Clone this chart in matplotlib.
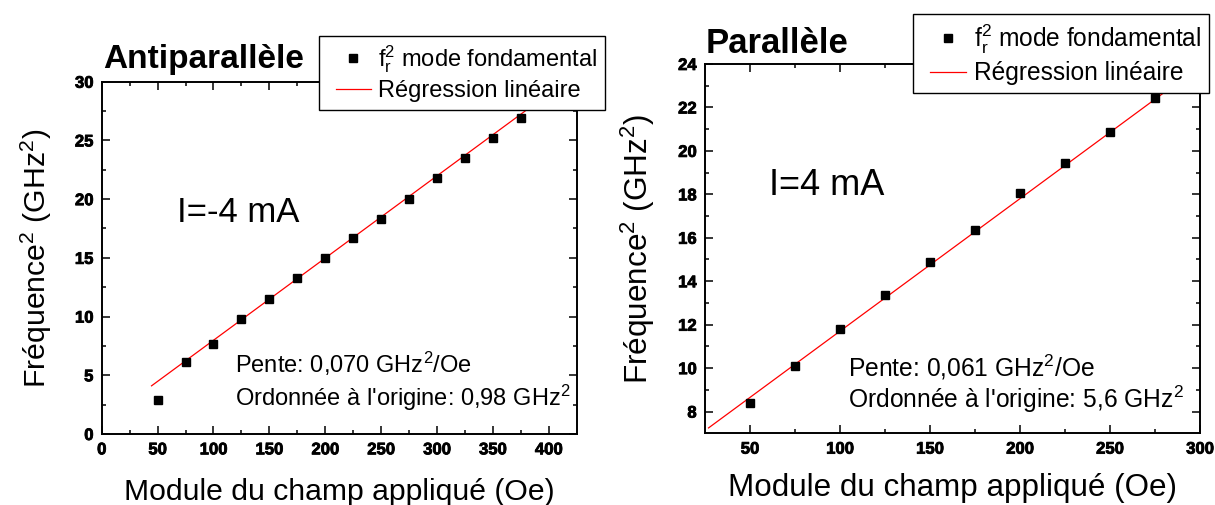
import numpy as np
import matplotlib
matplotlib.use('Agg')
from matplotlib import pyplot as plt
from matplotlib import patheffects
from matplotlib.lines import Line2D
from matplotlib.legend_handler import HandlerLine2D

plt.rcParams['font.family'] = ['Liberation Sans', 'DejaVu Sans']
plt.rcParams['mathtext.default'] = 'regular'

# Antiparallele, I = -4 mA
champ_ap = [50, 75, 100, 125, 150, 175, 200, 225, 250, 275, 300, 325, 350, 375]
freq2_ap = [2.89, 6.11, 7.64, 9.76, 11.52, 13.30, 15.03, 16.72, 18.34, 20.03,
            21.79, 23.49, 25.20, 26.90]
pente_ap = 0.070
origine_ap = 0.98
fit_x_ap = [44.6, 430]
xticks_ap = [0, 50, 100, 150, 200, 250, 300, 350, 400]
yticks_ap = [0, 5, 10, 15, 20, 25, 30]

# Parallele, I = 4 mA
champ_p = [50, 75, 100, 125, 150, 175, 200, 225, 250, 275]
freq2_p = [8.40, 10.08, 11.81, 13.38, 14.88, 16.38, 18.06, 19.43, 20.87, 22.44]
pente_p = 0.061
origine_p = 5.6
fit_x_p = [27, 305]
xticks_p = [50, 100, 150, 200, 250, 300]
yticks_p = [8, 10, 12, 14, 16, 18, 20, 22, 24]

fig = plt.figure(figsize=(12.15, 5.05), dpi=100)
ax1 = fig.add_axes([0.0837, 0.1406, 0.3909, 0.6976])
ax2 = fig.add_axes([0.5802, 0.1420, 0.4074, 0.7313])

epais = [patheffects.withStroke(linewidth=0.6, foreground='black')]


def draw(ax, x, y, pente, origine, fit_x, xlim, ylim, xt, yt, s, xpad):
    fx = np.array(fit_x)
    ax.plot(fx, origine + pente * fx, color='red', linewidth=0.9,
            label='Régression linéaire', zorder=2)
    ax.plot(x, y, linestyle='none', marker='s', markersize=5.5, color='black',
            label=r'f$_r^2$ mode fondamental', zorder=3)
    ax.set_xlim(xlim)
    ax.set_ylim(ylim)
    ax.set_xticks(xt, [str(v) for v in xt], fontweight='bold')
    ax.set_yticks(yt, [str(v) for v in yt], fontweight='bold')
    ax.set_xticks(np.array(xt[:-1]) + (xt[1] - xt[0]) / 2, minor=True)
    ax.set_yticks(np.array(yt[:-1]) + (yt[1] - yt[0]) / 2, minor=True)
    ax.tick_params(which='both', direction='in', top=True, right=True, width=1.1)
    ax.tick_params(which='major', length=5.5, pad=6, labelsize=12)
    ax.tick_params(which='minor', length=3)
    for sp in ax.spines.values():
        sp.set_linewidth(1.4)
    ax.set_xlabel('Module du champ appliqué (Oe)', fontsize=21.7 * s, labelpad=xpad)
    ax.set_ylabel('Fréquence$^2$ (GHz$^2$)', fontsize=21.8 * s, labelpad=15)


def legende(ax, xy, s):
    h, l = ax.get_legend_handles_labels()
    fig.legend(h[::-1], l[::-1], loc='upper left', bbox_to_anchor=xy,
               bbox_transform=fig.transFigure, borderaxespad=0, fontsize=17 * s,
               fancybox=False, edgecolor='black', framealpha=1,
               borderpad=0.33, handlelength=1.85, handletextpad=0.3,
               labelspacing=0.22,
               handler_map={Line2D: HandlerLine2D(xpad=0.38)})


draw(ax1, champ_ap, freq2_ap, pente_ap, origine_ap, fit_x_ap, (0, 425), (0, 30),
     xticks_ap, yticks_ap, 1.0, 15)
draw(ax2, champ_p, freq2_p, pente_p, origine_p, fit_x_p, (25, 300), (7, 24),
     xticks_p, yticks_p, 1.04, 12)
legende(ax1, (0.2628, 0.9293), 1.0)
legende(ax2, (0.7512, 0.9717), 1.04)

ax1.text(0.158, 0.63, 'I=-4 mA', transform=ax1.transAxes, fontsize=25, va='center')
ax2.text(0.129, 0.67, 'I=4 mA', transform=ax2.transAxes, fontsize=26, va='center')

ax1.text(0.28, 0.198, 'Pente: 0,070 GHz$^2$/Oe', transform=ax1.transAxes,
         fontsize=17, va='center')
ax1.text(0.28, 0.102, "Ordonnée à l'origine: 0,98 GHz$^2$", transform=ax1.transAxes,
         fontsize=17, va='center')
ax2.text(0.29, 0.179, 'Pente: 0,061 GHz$^2$/Oe', transform=ax2.transAxes,
         fontsize=17.7, va='center')
ax2.text(0.29, 0.092, "Ordonnée à l'origine: 5,6 GHz$^2$", transform=ax2.transAxes,
         fontsize=17.7, va='center')

fig.text(103 / 1215, 1 - 68.3 / 505, 'Antiparallèle', fontsize=24,
         fontweight='bold', va='baseline')
fig.text(706 / 1215, 1 - 53.3 / 505, 'Parallèle', fontsize=25,
         fontweight='bold', va='baseline')

# heavier tick labels, as in the scanned original
fig.canvas.draw()
for ax in (ax1, ax2):
    for lab in ax.get_xticklabels() + ax.get_yticklabels():
        lab.set_fontweight('bold')
        lab.set_path_effects(epais)

fig.savefig('out.png', dpi=100)
